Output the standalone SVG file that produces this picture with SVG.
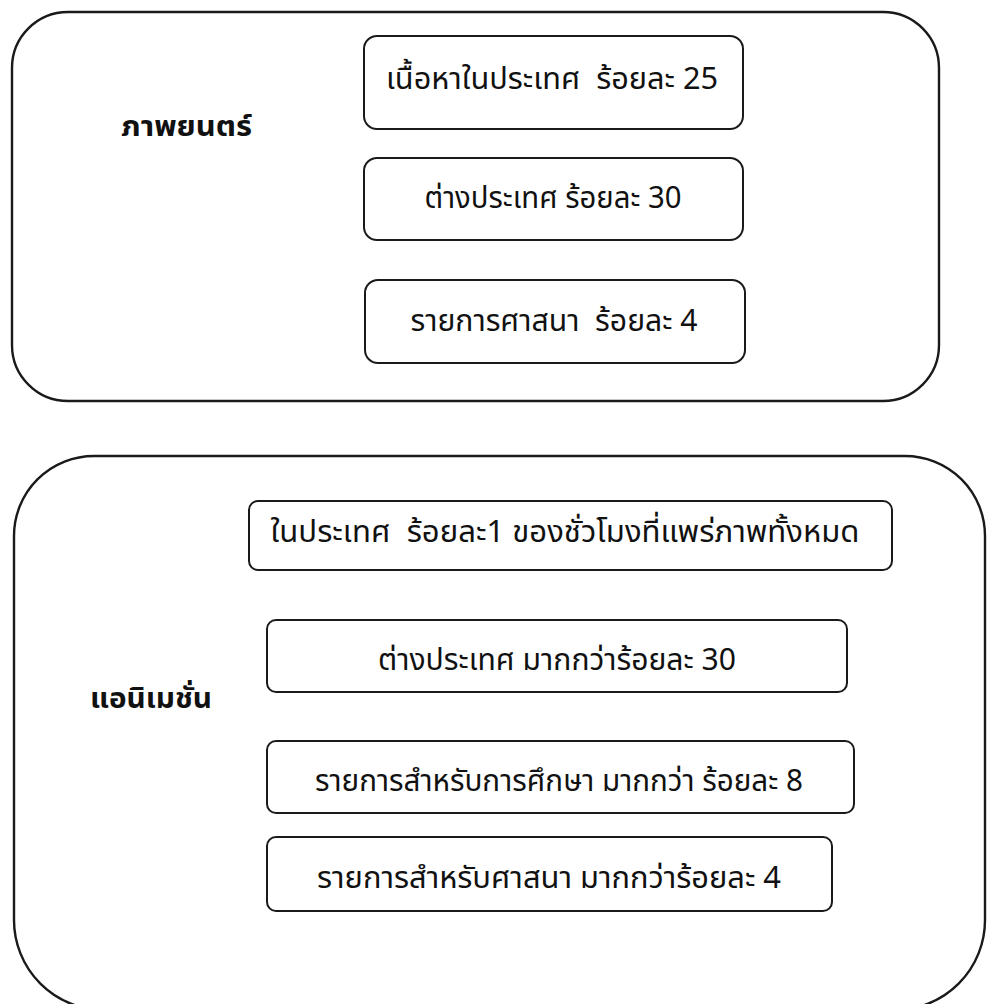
<svg xmlns="http://www.w3.org/2000/svg" width="988" height="1004" viewBox="0 0 988 1004">
<style>
.outer{fill:none;stroke:#1a1a1a;stroke-width:2.4}
.box{fill:#fff;stroke:#1a1a1a;stroke-width:2}
.t{font-family:"Noto Sans Thai","Noto Sans","DejaVu Sans",sans-serif;font-size:30px;fill:#111;text-anchor:middle;dominant-baseline:central;white-space:pre}
.h{font-family:"Noto Sans Thai","Noto Sans","DejaVu Sans",sans-serif;font-size:28px;font-weight:bold;fill:#111;dominant-baseline:central}
</style>
<rect width="988" height="1004" fill="#fff"/>
<g id="film">
<rect class="outer" x="12" y="12" width="927" height="389" rx="56"/>
<text class="h" x="121" y="127" textLength="131" lengthAdjust="spacingAndGlyphs">ภาพยนตร์</text>
</g>
<g id="film-domestic"><rect class="box" x="364" y="36" width="379" height="93" rx="13"/><text class="t" x="552" y="80" textLength="332" lengthAdjust="spacingAndGlyphs">เนื้อหาในประเทศ  ร้อยละ 25</text></g>
<g id="film-foreign"><rect class="box" x="364" y="158" width="379" height="82" rx="13"/><text class="t" x="553" y="199" textLength="257" lengthAdjust="spacingAndGlyphs">ต่างประเทศ ร้อยละ 30</text></g>
<g id="film-religion"><rect class="box" x="365" y="280" width="380" height="83" rx="13"/><text class="t" x="554" y="322" textLength="287" lengthAdjust="spacingAndGlyphs">รายการศาสนา  ร้อยละ 4</text></g>
<g id="animation">
<path class="outer" d="M14,920 L14,536 A80,80 0 0 1 94,456 L905,456 A80,80 0 0 1 985,536 L985,920 A90,90 0 0 1 895,1010 L104,1010 A90,90 0 0 1 14,920 Z"/>
<text class="h" x="90" y="699" textLength="122" lengthAdjust="spacingAndGlyphs">แอนิเมชั่น</text>
</g>
<g id="anim-domestic"><rect class="box" x="249" y="501" width="643" height="69" rx="9"/><text class="t" x="565" y="533" textLength="589" lengthAdjust="spacingAndGlyphs">ในประเทศ  ร้อยละ1 ของชั่วโมงที่แพร่ภาพทั้งหมด</text></g>
<g id="anim-foreign"><rect class="box" x="267" y="620" width="580" height="72" rx="9"/><text class="t" x="557" y="661" textLength="358" lengthAdjust="spacingAndGlyphs">ต่างประเทศ มากกว่าร้อยละ 30</text></g>
<g id="anim-education"><rect class="box" x="267" y="741" width="587" height="72" rx="9"/><text class="t" x="559" y="782" textLength="488" lengthAdjust="spacingAndGlyphs">รายการสำหรับการศึกษา มากกว่า ร้อยละ 8</text></g>
<g id="anim-religion"><rect class="box" x="267" y="837" width="565" height="74" rx="9"/><text class="t" x="549" y="879" textLength="464" lengthAdjust="spacingAndGlyphs">รายการสำหรับศาสนา มากกว่าร้อยละ 4</text></g>
<g id="connectors"></g>
</svg>
